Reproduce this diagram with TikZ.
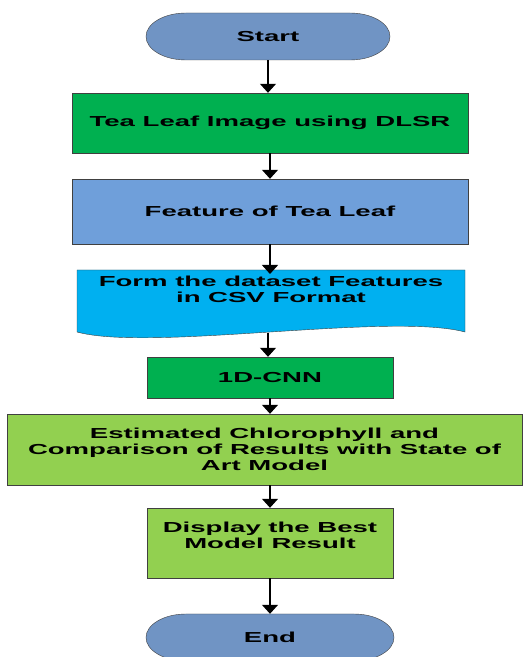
\documentclass[tikz,border=0pt]{standalone}
\usepackage{fontspec}
\setmainfont{Liberation Sans}[FakeStretch=1.9]
\usetikzlibrary{arrows.meta,positioning,calc}
\definecolor{termblue}{HTML}{7094C4}
\definecolor{featblue}{HTML}{6F9FDA}
\definecolor{csvblue}{HTML}{00B0F0}
\definecolor{darkgreen}{HTML}{00B050}
\definecolor{lightgreen}{HTML}{92D050}

\begin{document}
\begin{tikzpicture}[x=1pt, y=1pt,
    box/.style={draw=black!75, thin, align=center, inner sep=2pt,
        font=\bfseries\fontsize{14.5}{16}\selectfont},
    flow/.style={-{Triangle[width=16pt,length=9pt]}, line width=1.2pt}]
    \useasboundingbox (0,0) rectangle (531,657);

    % Start
    \filldraw[fill=termblue, draw=black!75, thin] (186,644) -- (350,644)
        arc[start angle=90, end angle=-90, x radius=40, y radius=23.5] -- (186,597)
        arc[start angle=270, end angle=90, x radius=40, y radius=23.5] -- cycle;
    \node[box, draw=none, minimum width=244, minimum height=47] (start) at (268,620.5) {Start};

    % Steps
    \node[box, fill=darkgreen, minimum width=396, minimum height=60] (image) at (270,534) {Tea Leaf Image using DLSR};
    \node[box, fill=featblue, minimum width=396, minimum height=65] (feature) at (270,445.5) {Feature of Tea Leaf};

    % CSV document
    \filldraw[fill=csvblue, draw=black!75, thin] (77,387) -- (465,387) -- (465,325)
        .. controls (390,345) and (150,305) .. (77,325) -- cycle;
    \node[box, draw=none, anchor=north] (csv) at (271,383) {Form the dataset Features\\in CSV Format};
    \coordinate (csvbot) at (268,324);

    \node[box, fill=darkgreen, minimum width=246, minimum height=41] (cnn) at (270,279.5) {1D-CNN};
    \node[box, fill=lightgreen, minimum width=515, minimum height=71] (estimate) at (264.5,207.5)
        {Estimated Chlorophyll and\\Comparison of Results with State of\\Art Model};
    \node[box, fill=lightgreen, minimum width=246, minimum height=70, text depth=16pt] (display) at (270,114)
        {Display the Best\\Model Result};

    % End
    \filldraw[fill=termblue, draw=black!75, thin] (186,43) -- (354,43)
        arc[start angle=90, end angle=-90, x radius=40, y radius=23.5] -- (186,-4)
        arc[start angle=270, end angle=90, x radius=40, y radius=23.5] -- cycle;
    \node[box, draw=none, minimum width=248, minimum height=47] (end) at (270,19.5) {End};

    % Arrows
    \draw[flow] (start.south) -- (start.south |- image.north);
    \draw[flow] (image.south) -- (image.south |- feature.north);
    \draw[flow] (feature.south) -- (feature.south |- csv.north);
    \draw[flow] (csvbot) -- (csvbot |- cnn.north);
    \draw[flow] (cnn.south) -- (cnn.south |- estimate.north);
    \draw[flow] (display.north |- estimate.south) -- (display.north);
    \draw[flow] (display.south) -- (display.south |- end.north);
\end{tikzpicture}
\end{document}
